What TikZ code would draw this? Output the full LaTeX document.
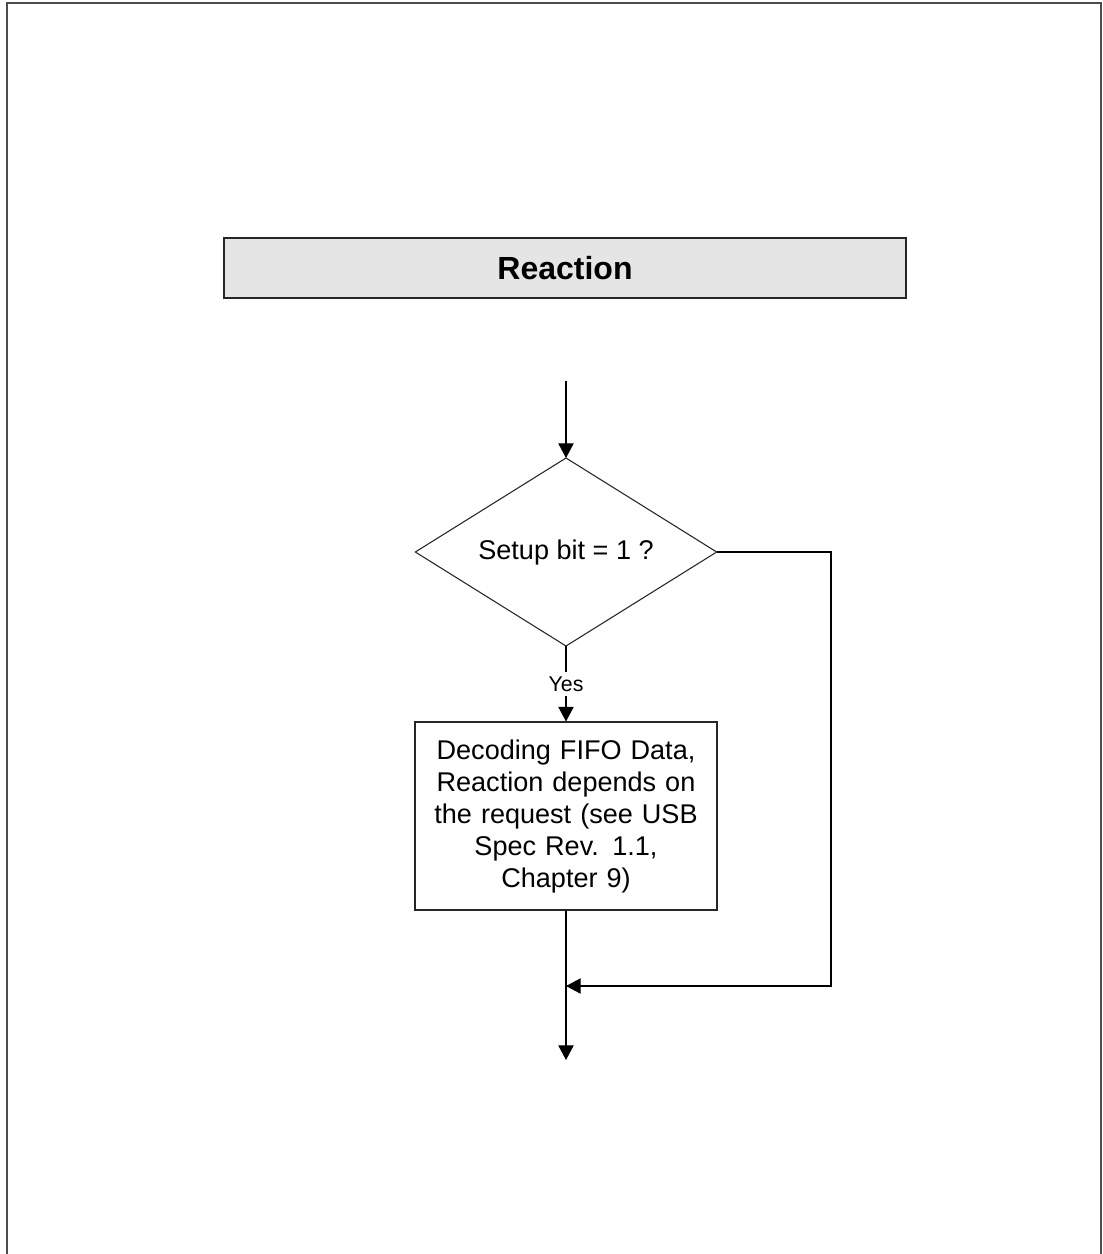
\documentclass[tikz,border=0pt]{standalone}
\usepackage{fontspec}
\setmainfont{Liberation Sans}
\usetikzlibrary{shapes.geometric,arrows.meta}

\tikzset{
  titlebox/.style={draw=black!85,fill=black!10,line width=1pt,
    minimum width=511.5pt,minimum height=45pt,
    font=\fontsize{24}{28}\selectfont\bfseries},
  decision/.style={draw=black!85,diamond,aspect=1.6,line width=0.8pt,
    inner sep=0pt,outer sep=0pt,minimum width=226pt,minimum height=141pt},
  actionbox/.style={draw=black!85,line width=0.8pt,align=center,
    minimum width=226.5pt,minimum height=141pt,text width=210pt},
  small/.style={font=\fontsize{16}{18}\selectfont,inner sep=3pt}
}

\begin{document}
\begin{tikzpicture}[x=0.75pt,y=-0.75pt,line width=0.8pt,
  >={Triangle[length=11pt,width=11.5pt]},
  font=\fontsize{20.3}{24}\selectfont]
\useasboundingbox (0,0) rectangle (1103,1254);
% page frame, open at the bottom
\draw[line width=1.6pt,black!70] (7,1262) -- (7,3) -- (1101,3) -- (1101,1262);

\node[titlebox] (title) at (565,268) {Reaction};

\coordinate (start) at (566,381);
\node[decision] (setup) at (566,552) {Setup bit = 1 ?};
\node[small] (yes) at (566,684) {Yes};
\node[actionbox] (decode) at (566,816) {Decoding FIFO Data,\\Reaction depends on\\the request (see USB\\Spec Rev. 1.1,\\Chapter 9)};
\coordinate (corner) at (831,986);
\coordinate (merge) at (566,986);
\coordinate (stop) at (566,1060);

\draw[->] (start) -- (setup.north);
\draw (setup.south) -- (yes.north);
\draw[->] (yes.south) -- (decode.north);
\draw[->] (setup.east) -| (corner) -- (merge);
\draw[->] (decode.south) -- (stop);
\end{tikzpicture}
\end{document}
